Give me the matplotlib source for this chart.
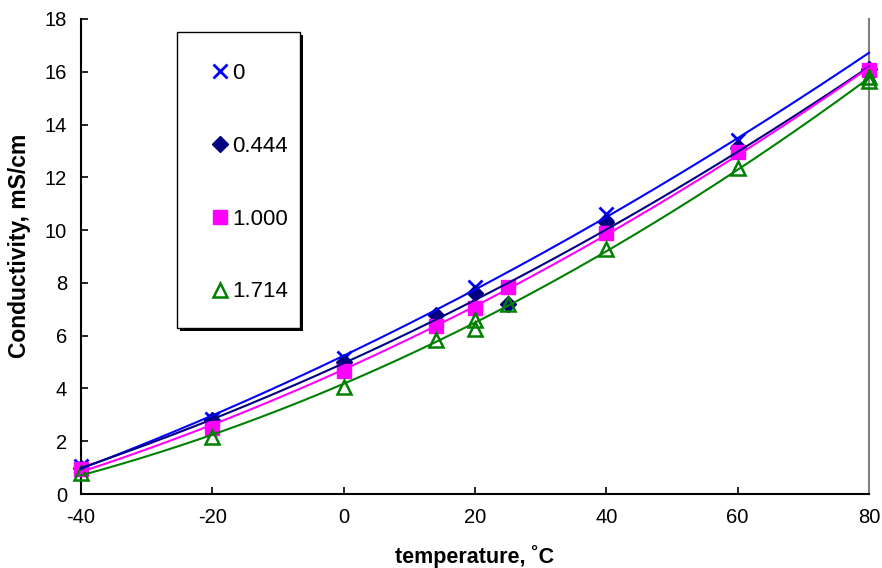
import numpy as np
import matplotlib
matplotlib.use('Agg')
import matplotlib.pyplot as plt
from matplotlib.patches import Rectangle
from matplotlib.lines import Line2D

plt.rcParams['font.family'] = ['Liberation Sans', 'DejaVu Sans']
plt.rcParams['axes.unicode_minus'] = False

# temperature (C) vs conductivity (mS/cm), one set per ratio
t_0 = [-40, -20, 0, 20, 40, 60]
k_0 = [1.05, 2.85, 5.15, 7.85, 10.6, 13.4]

t_0444 = [-40, -20, 0, 14, 20, 25, 40, 60, 80]
k_0444 = [1.0, 2.8, 5.0, 6.8, 7.6, 7.2, 10.3, 13.1, 16.1]

t_1000 = [-40, -20, 0, 14, 20, 25, 40, 60, 80]
k_1000 = [0.95, 2.5, 4.65, 6.35, 7.05, 7.85, 9.9, 12.95, 16.05]

t_1714 = [-40, -20, 0, 14, 20, 20, 25, 40, 60, 80, 80]
k_1714 = [0.8, 2.15, 4.07, 5.85, 6.6, 6.25, 7.2, 9.3, 12.35, 15.8, 15.65]

labels = ['0', '0.444', '1.000', '1.714']

series = [
    (t_0, k_0, dict(color='#0000ff', marker='x', ms=10.5, mew=2)),
    (t_0444, k_0444, dict(color='#000080', marker='D', ms=8, mew=1)),
    (t_1000, k_1000, dict(color='#ff00ff', marker='s', ms=10, mew=1)),
    (t_1714, k_1714, dict(color='#008000', marker='^', ms=10, mew=1.8, mfc='none')),
]

fig = plt.figure(figsize=(8.82, 5.68), dpi=100)
ax = fig.add_axes([81 / 882, 1 - 494 / 568, 788 / 882, 475 / 568])

handles = []
for t, k, st in series:
    st = dict(st)
    c = st.pop('color')
    ax.plot(t, k, linestyle='none', color=c, mec=c, zorder=3, clip_on=False, **st)
    handles.append(Line2D([], [], linestyle='none', color=c, mec=c, **st))

# polynomial trendlines (Excel style)
tt = np.linspace(-40, 80, 200)
for t, k, st in series:
    p = np.polyfit(t, k, 2)
    ax.plot(tt, np.polyval(p, tt), color=st['color'], lw=1.5, zorder=4, clip_on=False)

ax.set_xlim(-40, 80)
ax.set_ylim(0, 18)
ax.set_xticks(np.arange(-40, 81, 20))
ax.set_yticks(np.arange(0, 19, 2))
ax.tick_params(direction='in', length=5, width=1.2, labelsize=14.5, pad=10)

ax.spines['top'].set_visible(False)
ax.spines['right'].set_color('#808080')
ax.spines['right'].set_linewidth(1.5)
ax.spines['left'].set_linewidth(1.5)
ax.spines['bottom'].set_linewidth(1.5)

ax.set_xlabel('temperature, ˚C', fontsize=15.5, fontweight='bold')
ax.set_ylabel('Conductivity, mS/cm', fontsize=16.5, fontweight='bold')
ax.xaxis.set_label_coords(0.5, -0.108)
ax.yaxis.set_label_coords(-0.064, 0.522)

# legend box with shadow
sh = Rectangle(((177 + 3) / 882, 1 - (328 + 3) / 568), 123 / 882, 296 / 568,
               transform=fig.transFigure, facecolor='black', edgecolor='none',
               zorder=5, clip_on=False)
box = Rectangle((177 / 882, 1 - 328 / 568), 123 / 882, 296 / 568,
                transform=fig.transFigure, facecolor='white', edgecolor='black',
                lw=1, zorder=5.1, clip_on=False)
ax.add_artist(sh)
ax.add_artist(box)

leg = ax.legend(handles, labels, loc='upper left', bbox_to_anchor=(209 / 882, 1 - 63 / 568),
                bbox_transform=fig.transFigure, frameon=False, fontsize=16,
                borderpad=0, borderaxespad=0, handlelength=1.0, handletextpad=0.05,
                labelspacing=2.33)
leg.set_zorder(6)

fig.savefig('out.png', dpi=100)
